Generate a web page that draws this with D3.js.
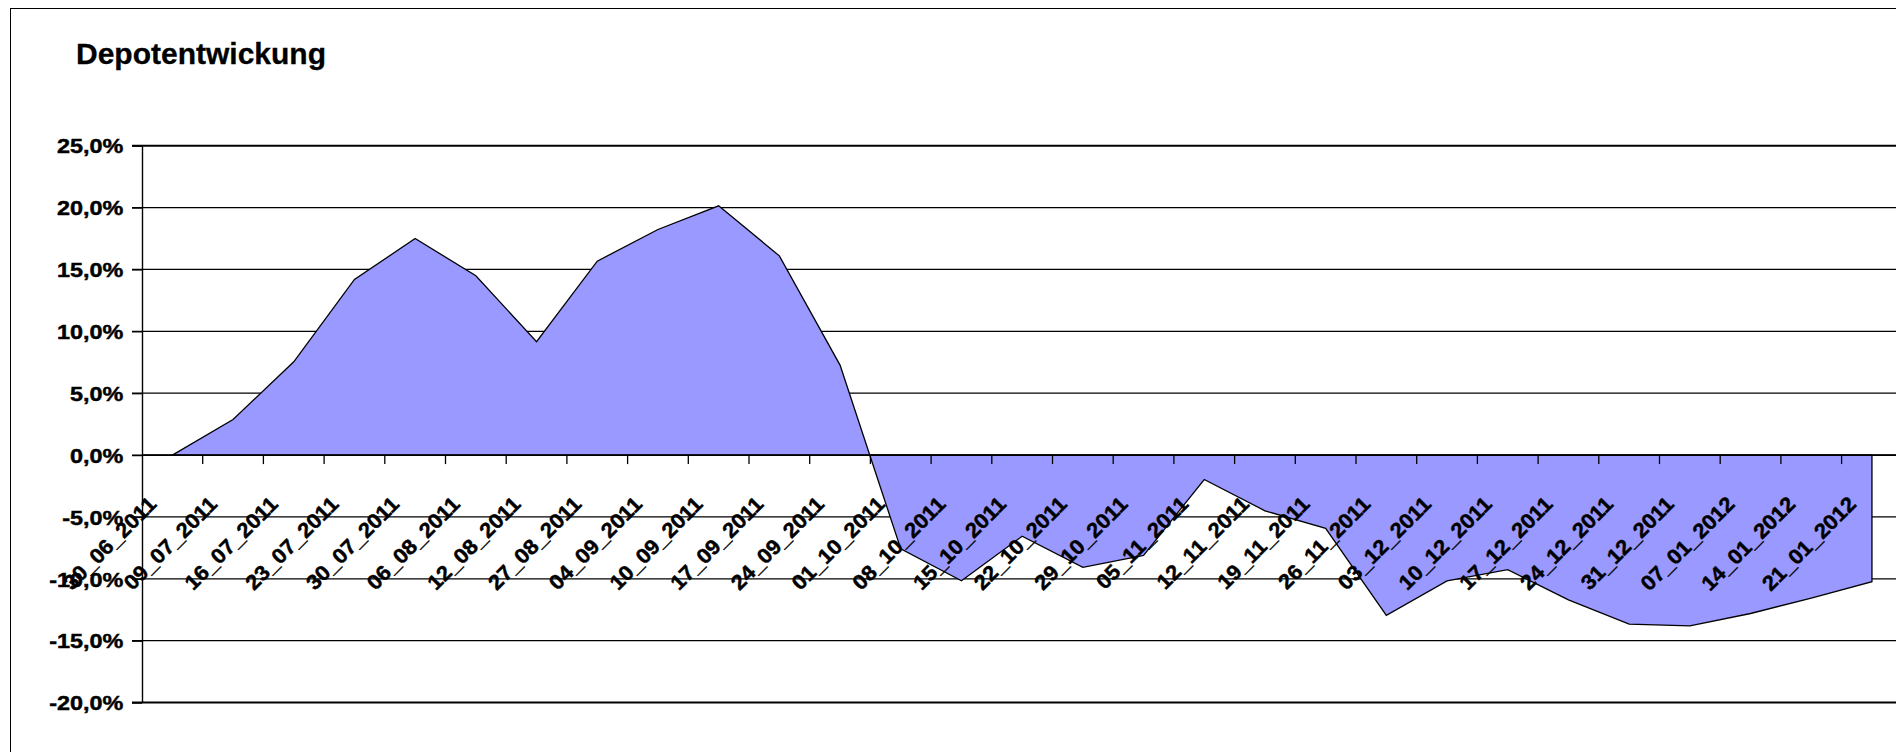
<!DOCTYPE html>
<html lang="de">
<head>
    <meta charset="UTF-8">
    <title>Depotentwickung</title>
    <script src="https://d3js.org/d3.v7.min.js"></script>
    <style>
        body { margin: 0; background: #fff; font-family: "Liberation Sans", Arial, sans-serif; }
        svg { display: block; }
        .lbl { font-weight: bold; font-size: 20px; fill: #000; stroke: #000; stroke-width: 0.45px; }
        .xl { font-size: 21px; }
    </style>
</head>
<body>
    <svg width="1896" height="752"></svg>

    <script>
        const dates = ["30_06_2011", "09_07_2011", "16_07_2011", "23_07_2011", "30_07_2011",
            "06_08_2011", "12_08_2011", "27_08_2011", "04_09_2011", "10_09_2011", "17_09_2011",
            "24_09_2011", "01_10_2011", "08_10_2011", "15_10_2011", "22_10_2011", "29_10_2011",
            "05_11_2011", "12_11_2011", "19_11_2011", "26_11_2011", "03_12_2011", "10_12_2011",
            "17_12_2011", "24_12_2011", "31_12_2011", "07_01_2012", "14_01_2012", "21_01_2012"];
        const depot = [0.0, 2.88, 7.54, 14.19, 17.5, 14.49, 9.16, 15.67, 18.23, 20.14, 16.1,
            7.27, -7.58, -10.15, -6.56, -9.07, -8.1, -1.97, -4.5, -5.92, -12.95, -10.16,
            -9.25, -11.7, -13.66, -13.8, -12.8, -11.55, -10.23];
        const yTicks = [-20, -15, -10, -5, 0, 5, 10, 15, 20, 25];

        const svg = d3.select("svg");
        const mLeft = 142, mTop = 145.7, mBottom = 702.6, step = 60.7;
        const mRight = mLeft + step * dates.length;
        const sy = 1.17, sxl = 1.05; // breite Schrift wie im Original

        const de = d3.formatLocale({ decimal: ",", thousands: ".", grouping: [3], currency: ["", " €"], minus: "-" });
        const fmt = v => de.format(".1f")(v) + "%";

        const x = d3.scalePoint().domain(dates).range([mLeft, mRight]).padding(0.5);
        const y = d3.scaleLinear().domain([-20, 25]).range([mBottom, mTop]);

        // Rahmen
        svg.append("rect")
            .attr("x", 10.5).attr("y", 8.5)
            .attr("width", 2000).attr("height", 1000)
            .attr("fill", "none").attr("stroke", "#000");

        svg.append("text")
            .attr("x", 76).attr("y", 64)
            .attr("font-size", "30px").attr("font-weight", "bold")
            .attr("stroke", "#000").attr("stroke-width", 0.3)
            .text("Depotentwickung");

        // Gitternetz
        svg.append("g").selectAll("line")
            .data(yTicks)
            .enter().append("line")
            .attr("x1", mLeft - 10).attr("x2", mRight)
            .attr("y1", d => y(d)).attr("y2", d => y(d))
            .attr("stroke", "#000")
            .attr("stroke-width", d => (d === 25 || d === -20) ? 2 : 1.3);

        // Fläche
        const area = d3.area()
            .x((d, i) => x(dates[i]))
            .y0(y(0))
            .y1(d => y(d));

        svg.append("path")
            .datum(depot)
            .attr("d", area)
            .attr("fill", "#9999ff")
            .attr("stroke", "#000")
            .attr("stroke-width", 1.3)
            .attr("stroke-linejoin", "miter");

        // y-Achse
        const yAxis = svg.append("g")
            .attr("transform", `translate(${mLeft},0)`)
            .call(d3.axisLeft(y).tickValues(yTicks).tickFormat(fmt).tickSize(10).tickSizeOuter(0));
        yAxis.attr("font-family", null).attr("font-size", null);
        yAxis.select(".domain").attr("stroke", "#000").attr("stroke-width", 1.4);
        yAxis.selectAll(".tick line").attr("stroke-width", 1.3);
        yAxis.selectAll(".tick text")
            .attr("class", "lbl")
            .attr("x", -18.7 / sy)
            .attr("dy", "0.36em")
            .attr("transform", `scale(${sy},1)`);

        // x-Achse bei 0
        const xg = svg.append("g");
        xg.append("line")
            .attr("x1", mLeft).attr("x2", mRight)
            .attr("y1", y(0)).attr("y2", y(0))
            .attr("stroke", "#000").attr("stroke-width", 1.8);
        xg.selectAll("line.tk")
            .data(dates.slice(1))
            .enter().append("line")
            .attr("class", "tk")
            .attr("x1", d => x(d) - step / 2).attr("x2", d => x(d) - step / 2)
            .attr("y1", y(0)).attr("y2", y(0) + 9)
            .attr("stroke", "#000").attr("stroke-width", 1.3);
        xg.selectAll("text")
            .data(dates)
            .enter().append("text")
            .attr("class", "lbl xl")
            .attr("text-anchor", "end")
            .attr("dy", "0.36em")
            .attr("transform", d => `translate(${x(d) - 20},${y(0) + 45}) rotate(-45) scale(${sxl},1)`)
            .text(d => d);
    </script>
</body>
</html>
